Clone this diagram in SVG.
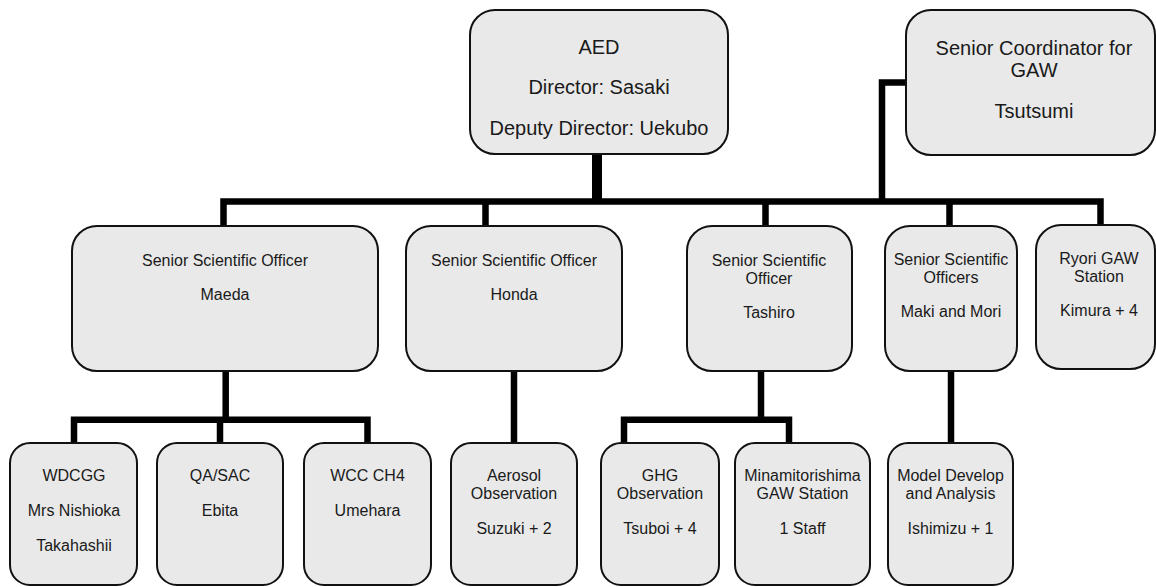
<svg xmlns="http://www.w3.org/2000/svg" width="1156" height="587" viewBox="0 0 1156 587">
<style>
.box{fill:#e9e9e9;stroke:#111;stroke-width:2}
.t{font-family:"Liberation Sans",Arial,sans-serif;fill:#1a1a1a;text-anchor:middle}
.t20{font-size:20px}
.t16{font-size:16px}
.c{fill:none;stroke:#000;stroke-width:6.5;stroke-linejoin:miter;stroke-linecap:butt}
</style>
<rect width="1156" height="587" fill="#fff"/>
<g id="connectors">
<line x1="597" y1="153" x2="597" y2="202" stroke="#000" stroke-width="10"/>
<path class="c" d="M907 82.5 H882 V201.5" stroke-width="6"/>
<path class="c" d="M223.5 226 V201.5 H1100.5 V226"/>
<line class="c" x1="485.5" y1="201.5" x2="485.5" y2="226"/>
<line class="c" x1="765.5" y1="201.5" x2="765.5" y2="226"/>
<line class="c" x1="949.5" y1="201.5" x2="949.5" y2="226"/>
<line class="c" x1="225.7" y1="371" x2="225.7" y2="420"/>
<path class="c" d="M74 443 V419.7 H367.5 V443"/>
<line class="c" x1="220" y1="419.7" x2="220" y2="443"/>
<line class="c" x1="514" y1="371" x2="514" y2="443"/>
<line class="c" x1="761" y1="371" x2="761" y2="420"/>
<path class="c" d="M624 443 V419.7 H789 V443"/>
<line class="c" x1="951" y1="371" x2="951" y2="443"/>
</g>
<g id="aed">
<rect class="box" x="470" y="10" width="258" height="144" rx="25"/>
<text class="t t20" x="599" y="54">AED</text>
<text class="t t20" x="599" y="94">Director: Sasaki</text>
<text class="t t20" x="599" y="135">Deputy Director: Uekubo</text>
</g>
<g id="coordinator">
<rect class="box" x="906" y="10" width="249" height="145" rx="25"/>
<text class="t t20" x="1034" y="55">Senior Coordinator for</text>
<text class="t t20" x="1034" y="77">GAW</text>
<text class="t t20" x="1034" y="118">Tsutsumi</text>
</g>
<g id="maeda">
<rect class="box" x="72" y="226" width="306" height="145" rx="25"/>
<text class="t t16" x="225" y="266">Senior Scientific Officer</text>
<text class="t t16" x="225" y="300">Maeda</text>
</g>
<g id="honda">
<rect class="box" x="406" y="226" width="216" height="145" rx="25"/>
<text class="t t16" x="514" y="266">Senior Scientific Officer</text>
<text class="t t16" x="514" y="300">Honda</text>
</g>
<g id="tashiro">
<rect class="box" x="687" y="226" width="165" height="145" rx="25"/>
<text class="t t16" x="769" y="266">Senior Scientific</text>
<text class="t t16" x="769" y="284">Officer</text>
<text class="t t16" x="769" y="318">Tashiro</text>
</g>
<g id="maki">
<rect class="box" x="885" y="226" width="132" height="145" rx="25"/>
<text class="t t16" x="951" y="265">Senior Scientific</text>
<text class="t t16" x="951" y="283">Officers</text>
<text class="t t16" x="951" y="317">Maki and Mori</text>
</g>
<g id="ryori">
<rect class="box" x="1036" y="225" width="119" height="144" rx="25"/>
<text class="t t16" x="1099" y="263.5">Ryori GAW</text>
<text class="t t16" x="1099" y="281.5">Station</text>
<text class="t t16" x="1099" y="315.5">Kimura + 4</text>
</g>
<g id="wdcgg">
<rect class="box" x="10" y="443" width="127" height="142" rx="20"/>
<text class="t t16" x="74" y="481">WDCGG</text>
<text class="t t16" x="74" y="516">Mrs Nishioka</text>
<text class="t t16" x="74" y="551">Takahashii</text>
</g>
<g id="qasac">
<rect class="box" x="157" y="443" width="126" height="142" rx="20"/>
<text class="t t16" x="220" y="481">QA/SAC</text>
<text class="t t16" x="220" y="516">Ebita</text>
</g>
<g id="wcc">
<rect class="box" x="304" y="443" width="127" height="142" rx="20"/>
<text class="t t16" x="367.5" y="481">WCC CH4</text>
<text class="t t16" x="367.5" y="516">Umehara</text>
</g>
<g id="aerosol">
<rect class="box" x="451" y="443" width="126" height="142" rx="20"/>
<text class="t t16" x="514" y="481">Aerosol</text>
<text class="t t16" x="514" y="499">Observation</text>
<text class="t t16" x="514" y="534">Suzuki + 2</text>
</g>
<g id="ghg">
<rect class="box" x="601" y="443" width="118" height="142" rx="20"/>
<text class="t t16" x="660" y="481">GHG</text>
<text class="t t16" x="660" y="499">Observation</text>
<text class="t t16" x="660" y="534">Tsuboi + 4</text>
</g>
<g id="minamitorishima">
<rect class="box" x="735" y="443" width="135" height="142" rx="20"/>
<text class="t t16" x="802.5" y="481">Minamitorishima</text>
<text class="t t16" x="802.5" y="499">GAW Station</text>
<text class="t t16" x="802.5" y="534">1 Staff</text>
</g>
<g id="model">
<rect class="box" x="888" y="443" width="125" height="142" rx="20"/>
<text class="t t16" x="950.5" y="481">Model Develop</text>
<text class="t t16" x="950.5" y="499">and Analysis</text>
<text class="t t16" x="950.5" y="534">Ishimizu + 1</text>
</g>
</svg>
